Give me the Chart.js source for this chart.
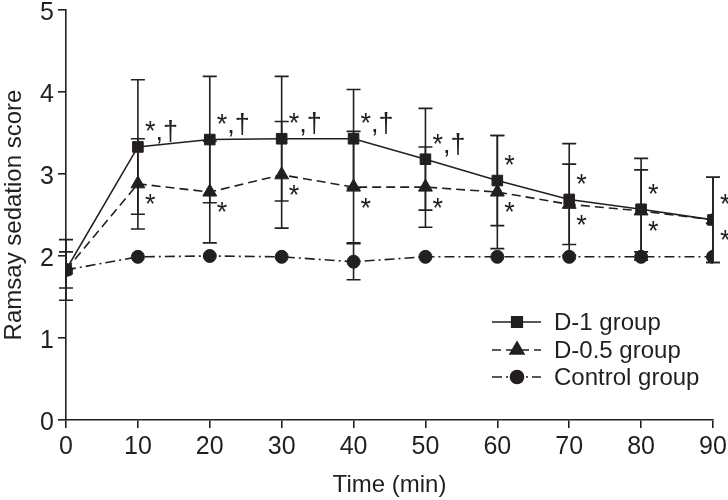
<!DOCTYPE html>
<html>
<head>
<meta charset="utf-8">
<script src="https://cdn.jsdelivr.net/npm/chart.js@4"></script>
<style>
  html, body { margin: 0; padding: 0; background: #fff; }
  #wrap { width: 728px; height: 500px; }
</style>
</head>
<body>
<div id="wrap"><canvas id="rasChart" width="728" height="500"></canvas></div>
<script>
// time points (min)
const times = [0, 10, 20, 30, 40, 50, 60, 70, 80, 90];

// D-1 group
const d1Mean = [1.83, 3.33, 3.42, 3.43, 3.43, 3.18, 2.92, 2.69, 2.57, 2.44];
const d1Sd   = [0.37, 0.82, 0.77, 0.76, 0.60, 0.62, 0.55, 0.68, 0.62, 0.52];
const d1Marks = ['', '*,\u2020', '*,\u2020', '*,\u2020', '*,\u2020', '*,\u2020', '*', '*', '*', '*'];

// D-0.5 group
const d05Mean = [1.83, 2.88, 2.78, 2.99, 2.84, 2.84, 2.78, 2.63, 2.55, 2.44];
const d05Sd   = [0.22, 0.55, 0.62, 0.65, 0.68, 0.49, 0.69, 0.49, 0.50, 0.52];
const d05Marks = ['', '*', '*', '*', '*', '*', '*', '*', '*', '*'];

// Control group
const ctrlMean = [1.83, 1.99, 2.00, 1.99, 1.93, 1.99, 1.99, 1.99, 1.99, 1.99];
const ctrlSd   = [0, 0, 0, 0, 0.22, 0, 0, 0, 0, 0];

const yTicks = [0, 1, 2, 3, 4, 5];
const xTicks = [0, 10, 20, 30, 40, 50, 60, 70, 80, 90];

const ink = '#231f20';
const font = 'Arial, "Liberation Sans", sans-serif';

function pts(means) {
    return times.map((t, i) => ({ x: t, y: means[i] }));
}

// error bars, drawn under the lines and markers
const errorBars = {
    id: 'errorBars',
    beforeDatasetsDraw(chart) {
        const ctx = chart.ctx;
        const xs = chart.scales.x, ys = chart.scales.y;
        const groups = [[d1Mean, d1Sd], [d05Mean, d05Sd], [ctrlMean, ctrlSd]];
        ctx.save();
        ctx.strokeStyle = ink;
        ctx.lineWidth = 1.6;
        groups.forEach(([m, sd]) => {
            times.forEach((t, i) => {
                if (!sd[i]) return;
                const x = xs.getPixelForValue(t);
                const top = ys.getPixelForValue(m[i] + sd[i]);
                const bot = ys.getPixelForValue(m[i] - sd[i]);
                ctx.beginPath();
                ctx.moveTo(x, top); ctx.lineTo(x, bot);
                ctx.moveTo(x - 7, top); ctx.lineTo(x + 7, top);
                ctx.moveTo(x - 7, bot); ctx.lineTo(x + 7, bot);
                ctx.stroke();
            });
        });
        ctx.restore();
    }
};

// significance marks and the line+marker legend
const extras = {
    id: 'extras',
    afterDatasetsDraw(chart) {
        const ctx = chart.ctx;
        const xs = chart.scales.x, ys = chart.scales.y;
        ctx.save();
        ctx.fillStyle = ink;
        ctx.font = '27px ' + font;
        ctx.textAlign = 'left';
        ctx.textBaseline = 'middle';
        times.forEach((t, i) => {
            const x = xs.getPixelForValue(t) + 7;
            if (d1Marks[i]) ctx.fillText(d1Marks[i], x, ys.getPixelForValue(d1Mean[i]) - 14);
            if (d05Marks[i]) ctx.fillText(d05Marks[i], x, ys.getPixelForValue(d05Mean[i]) + 22);
        });

        // legend
        const rows = [322, 350, 377];
        ctx.font = '24px ' + font;
        chart.data.datasets.forEach((ds, k) => {
            const y = rows[k];
            ctx.strokeStyle = ink;
            ctx.lineWidth = 1.6;
            ctx.setLineDash(ds.borderDash || []);
            ctx.beginPath();
            ctx.moveTo(492, y); ctx.lineTo(541, y);
            ctx.stroke();
            ctx.setLineDash([]);
            Chart.helpers.drawPoint(ctx, {
                pointStyle: ds.pointStyle, radius: ds.pointRadius, rotation: 0, borderWidth: 1
            }, 517, y);
            ctx.fill();
            ctx.fillText(ds.label, 554, y + 1);
        });
        ctx.restore();
    }
};

const ctx = document.getElementById('rasChart').getContext('2d');
const rasChart = new Chart(ctx, {
    type: 'line',
    data: {
        datasets: [{
            label: 'D-1 group',
            data: pts(d1Mean),
            borderColor: ink,
            backgroundColor: ink,
            borderWidth: 1.6,
            pointStyle: 'rect',
            pointRadius: 7.5,
            pointBorderWidth: 1
        }, {
            label: 'D-0.5 group',
            data: pts(d05Mean),
            borderColor: ink,
            backgroundColor: ink,
            borderWidth: 1.6,
            borderDash: [9, 5],
            pointStyle: 'triangle',
            pointRadius: 8,
            pointBorderWidth: 1
        }, {
            label: 'Control group',
            data: pts(ctrlMean),
            borderColor: ink,
            backgroundColor: ink,
            borderWidth: 1.6,
            borderDash: [10, 4, 2, 4],
            pointStyle: 'circle',
            pointRadius: 6.5,
            pointBorderWidth: 1
        }]
    },
    options: {
        responsive: false,
        animation: false,
        layout: { padding: { top: 10, right: 15, left: 0, bottom: 0 } },
        scales: {
            x: {
                type: 'linear',
                min: 0, max: 90,
                afterBuildTicks: (s) => { s.ticks = xTicks.map(v => ({ value: v })); },
                afterFit: (s) => { s.height = 80; s.paddingRight = 0; s.paddingLeft = 0; },
                border: { color: ink, width: 1.6 },
                grid: { display: true, drawOnChartArea: false, drawTicks: true, tickLength: 8, color: ink, lineWidth: 1.6 },
                ticks: { color: ink, font: { family: font, size: 25 }, padding: 4, maxRotation: 0 },
                title: { display: true, text: 'Time (min)', color: ink, font: { family: font, size: 24 }, padding: { top: 11, bottom: 0 } }
            },
            y: {
                min: 0, max: 5,
                afterBuildTicks: (s) => { s.ticks = yTicks.map(v => ({ value: v })); },
                afterFit: (s) => { s.width = 66; s.paddingTop = 0; s.paddingBottom = 0; },
                border: { color: ink, width: 1.6 },
                grid: { display: true, drawOnChartArea: false, drawTicks: true, tickLength: 8, color: ink, lineWidth: 1.6 },
                ticks: { color: ink, font: { family: font, size: 25 }, padding: 4, labelOffset: 3 },
                title: { display: true, text: 'Ramsay sedation score', color: ink, font: { family: font, size: 24 }, padding: { top: 0, bottom: 2 } }
            }
        },
        plugins: {
            legend: { display: false },
            tooltip: { enabled: false }
        }
    },
    plugins: [errorBars, extras]
});
</script>
</body>
</html>
